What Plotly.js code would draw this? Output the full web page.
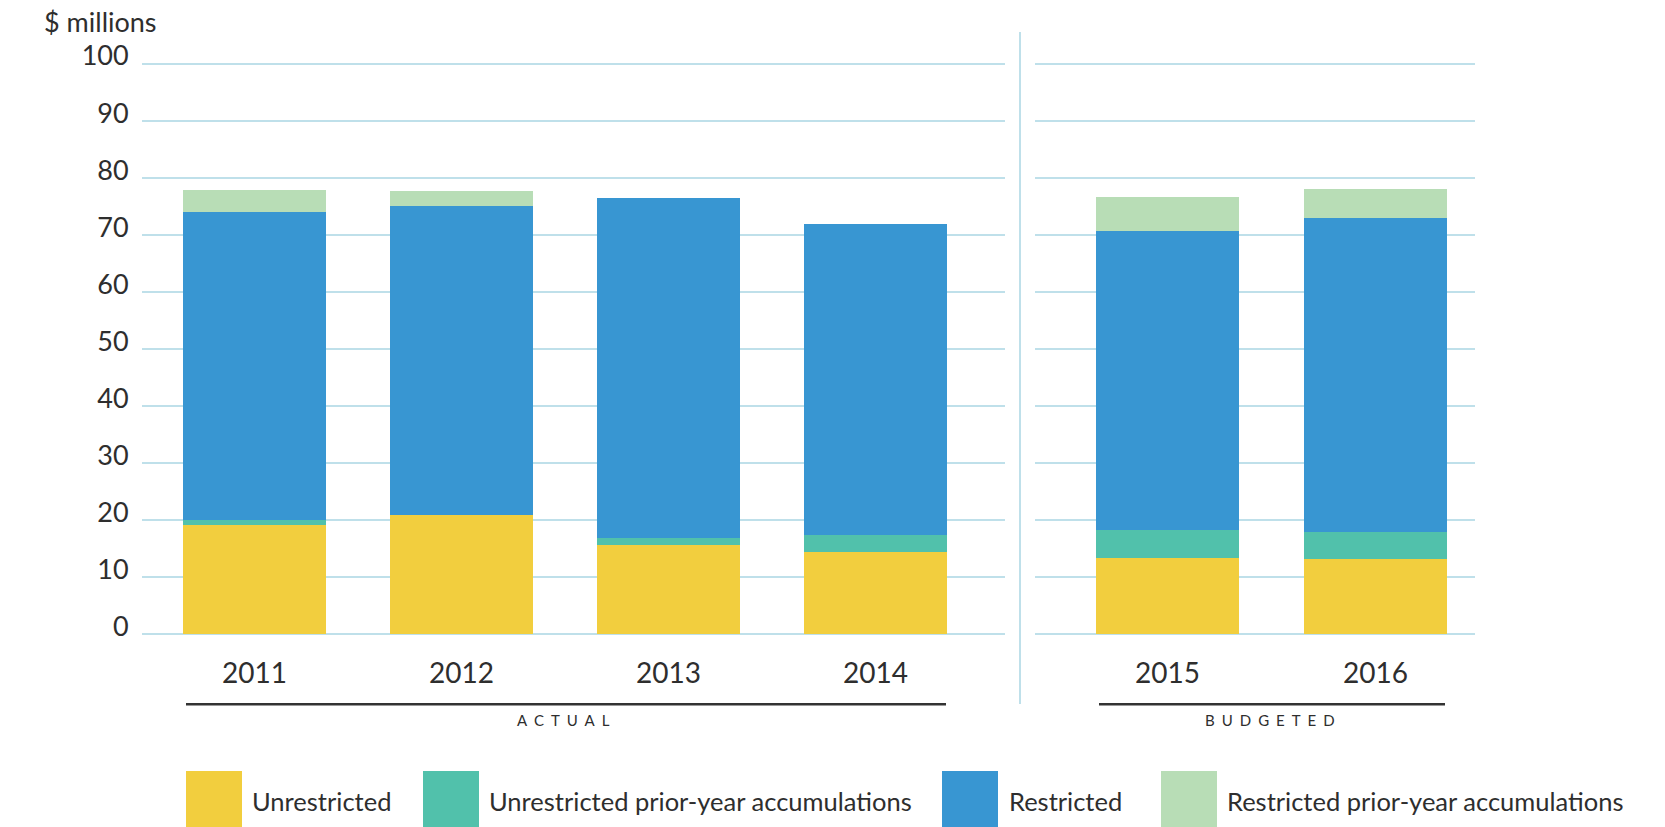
<!DOCTYPE html>
<html>
<head>
<meta charset="utf-8">
<script src="https://cdn.plot.ly/plotly-3.0.1.min.js"></script>
<style>
html,body{margin:0;padding:0;background:#ffffff;}
#chart{width:1665px;height:827px;}
</style>
</head>
<body>
<div id="chart"></div>
<script>
// ---- data ----
const years = ['2011', '2012', '2013', '2014', '2015', '2016'];
const actualCount = 4; // first four years are actual, rest budgeted
const groupLabels = ['ACTUAL', 'BUDGETED'];
const seriesNames = ['Unrestricted', 'Unrestricted prior-year accumulations', 'Restricted', 'Restricted prior-year accumulations'];
const unrestricted      = [19.2, 21.0, 15.7, 14.5, 13.4, 13.2];
const unrestrictedPrior = [0.9, 0.0, 1.2, 3.0, 4.9, 4.8];
const restricted        = [53.9, 54.1, 59.6, 54.5, 52.4, 55.0];
const restrictedPrior   = [3.9, 2.6, 0.0, 0.0, 6.0, 5.1];
const yUnit = '$ millions';

// ---- styles ----
const W = 1665, H = 827;
const colors = ['#F2CE3E', '#51C1AB', '#3896D2', '#B8DDB6'];
const textColor = '#2e2e2e';
const gridColor = '#bfe0ea';
const FONT = 'Lato, "Open Sans", sans-serif';
const WEIGHT = 400;
const px = x => x / W;
const py = y => 1 - y / H;

const seriesValues = [unrestricted, unrestrictedPrior, restricted, restrictedPrior];

const traces = [];
seriesValues.forEach((vals, i) => {
  traces.push({
    type: 'bar', name: seriesNames[i],
    x: years.slice(0, actualCount), y: vals.slice(0, actualCount),
    xaxis: 'x', yaxis: 'y',
    marker: {color: colors[i], line: {width: 0}},
    showlegend: false, hoverinfo: 'x+y+name'
  });
  traces.push({
    type: 'bar', name: seriesNames[i],
    x: years.slice(actualCount), y: vals.slice(actualCount),
    xaxis: 'x2', yaxis: 'y2',
    marker: {color: colors[i], line: {width: 0}},
    showlegend: false, hoverinfo: 'x+y+name'
  });
});

// y pixel scale: 0 -> 634.5px, 100 -> 64px ; range padded so edge gridlines show
const yPad = 0.3, pxPerUnit = (634.5 - 64) / 100;
const yBot = 634.5 + yPad * pxPerUnit, yTop = 64 - yPad * pxPerUnit;
const commonX = {
  type: 'category', showgrid: false, zeroline: false, showline: false,
  ticks: '', tickfont: {family: FONT, size: 28, color: textColor, weight: WEIGHT},
  ticklabelstandoff: 18, fixedrange: true
};
const commonY = {
  range: [-yPad, 100 + yPad], tick0: 0, dtick: 10,
  domain: [py(yBot), py(yTop)],
  showgrid: true, gridcolor: gridColor, gridwidth: 2,
  zeroline: false, showline: false, ticks: '', fixedrange: true
};

const legendSquares = [186, 423, 942, 1161];
const legendTextX = [250, 487, 1007, 1225];

const shapes = [
  {type: 'line', xref: 'paper', yref: 'paper', x0: px(1020), x1: px(1020), y0: py(32), y1: py(704), line: {color: gridColor, width: 2}},
  {type: 'line', xref: 'paper', yref: 'paper', x0: px(186), x1: px(946), y0: py(704.3), y1: py(704.3), line: {color: '#333333', width: 2.5}},
  {type: 'line', xref: 'paper', yref: 'paper', x0: px(1099), x1: px(1445), y0: py(704.3), y1: py(704.3), line: {color: '#333333', width: 2.5}}
];
legendSquares.forEach((x, i) => {
  shapes.push({type: 'rect', xref: 'paper', yref: 'paper', x0: px(x), x1: px(x + 56), y0: py(827), y1: py(771), fillcolor: colors[i], line: {width: 0}});
});

const annotations = [
  {xref: 'paper', yref: 'paper', x: px(42), y: py(22), xanchor: 'left', yanchor: 'middle', showarrow: false,
   text: yUnit, font: {family: FONT, size: 27, color: textColor, weight: WEIGHT}},
  {xref: 'paper', yref: 'paper', x: px(566), y: py(720), xanchor: 'center', yanchor: 'middle', showarrow: false,
   text: '<span style="letter-spacing:7px">' + groupLabels[0] + '</span>', font: {family: FONT, size: 15, color: textColor, weight: WEIGHT}},
  {xref: 'paper', yref: 'paper', x: px(1273), y: py(720), xanchor: 'center', yanchor: 'middle', showarrow: false,
   text: '<span style="letter-spacing:7px">' + groupLabels[1] + '</span>', font: {family: FONT, size: 15, color: textColor, weight: WEIGHT}}
];
legendTextX.forEach((x, i) => {
  annotations.push({xref: 'paper', yref: 'paper', x: px(x), y: py(801), xanchor: 'left', yanchor: 'middle', showarrow: false,
    text: seriesNames[i], font: {family: FONT, size: 25.5, color: textColor, weight: WEIGHT}});
});

const layout = {
  width: W, height: H,
  margin: {l: 0, r: 0, t: 0, b: 0},
  paper_bgcolor: '#ffffff', plot_bgcolor: 'rgba(0,0,0,0)',
  barmode: 'stack', bargap: 0.31,
  showlegend: false,
  font: {family: FONT, color: textColor},
  xaxis: Object.assign({}, commonX, {domain: [px(141.7), px(1005)], range: [-0.545, 3.626], anchor: 'y'}),
  xaxis2: Object.assign({}, commonX, {domain: [px(1035), px(1475)], range: [-0.637, 1.478], anchor: 'y2'}),
  yaxis: Object.assign({}, commonY, {anchor: 'x', showticklabels: true,
    tickfont: {family: FONT, size: 27, color: textColor, weight: WEIGHT}, ticklabelshift: -8, ticklabelstandoff: 12}),
  yaxis2: Object.assign({}, commonY, {anchor: 'x2', matches: 'y', showticklabels: false}),
  shapes: shapes,
  annotations: annotations
};

Plotly.newPlot('chart', traces, layout, {displayModeBar: false, staticPlot: true});
</script>
</body>
</html>
